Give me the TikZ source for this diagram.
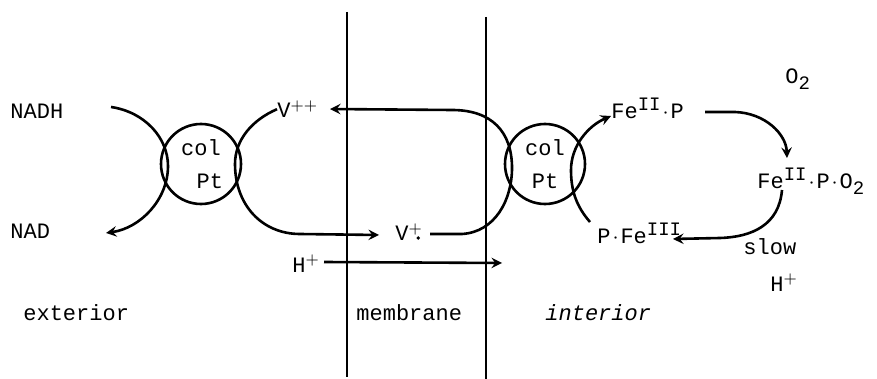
\documentclass[tikz,border=0pt]{standalone}
\usepackage{amsmath}
\usepackage{fontspec}
\setmainfont{Liberation Mono}
\newcommand{\ox}[1]{\raisebox{4pt}{\fontsize{9.5}{10}\selectfont #1}}
\newcommand{\sbx}[1]{\raisebox{-3pt}{\fontsize{9.5}{10}\selectfont #1}}
\newcommand{\mdot}{\makebox[0.45em]{$\cdot$}}

\begin{document}
\begin{tikzpicture}[x=0.5pt,y=-0.5pt,
    lbl/.style={anchor=base west,inner sep=0pt,font=\fontsize{11}{13}\selectfont},
    colpt/.style={draw,circle,line width=1.3pt,minimum size=40pt,inner sep=0pt,align=center,font=\fontsize{11}{16.5}\selectfont},
    flow/.style={line width=1.3pt,-stealth}]
    
    \useasboundingbox (0,0) rectangle (877,379);
    \draw[line width=1pt] (347,12) -- (347,377);
    \draw[line width=1pt] (486,17) -- (486,379);
    \node[colpt] (pt1) at (201,164) {col\\\hspace*{0.8em}Pt};
    \node[colpt] (pt2) at (545,164) {col\\Pt};
    \node[lbl] (nadh) at (10,119) {NADH};
    \node[lbl] (nad) at (10,239) {NAD};
    \node[lbl] (vpp) at (277,118) {V$^{++}$};
    \node[lbl] (vrad) at (395,241) {V$^{+}$};
    \fill ([xshift=-2.5pt,yshift=1.5pt]vrad.base east) circle (0.9pt);
    \node[lbl] (hout) at (292,272) {H$^{+}$};
    \node[lbl] (fep) at (611,119) {Fe\ox{II}\mdot P};
    \node[lbl] (fepo) at (757,189) {Fe\ox{II}\mdot P\mdot O\sbx{2}};
    \node[lbl] (pfe) at (597,243) {P\mdot Fe\ox{III}};
    \node[lbl] (otwo) at (785,84) {O\sbx{2}};
    \node[lbl] (slow) at (743,255) {slow};
    \node[lbl] (hin) at (770,291) {H$^{+}$};
    \node[lbl] (ext) at (23,320) {exterior};
    \node[lbl] (mem) at (356,320) {membrane};
    \node[lbl] (int) at (545,320) {\itshape interior};
    \coordinate (nadh-out) at (111,107);
    \coordinate (nad-in) at (106,233);
    \coordinate (vrad-in) at (379,235);
    \coordinate (vrad-out) at (430,234);
    \coordinate (vpp-in) at (330,109);
    \coordinate (pfe-out) at (590,222);
    \coordinate (fep-in) at (611,116);
    \coordinate (fep-out) at (705,112);
    \coordinate (fepo-in) at (787,158);
    \coordinate (fepo-out) at (782,190);
    \coordinate (pfe-in) at (673,239);
    \coordinate (hout-out) at (324,262);
    \coordinate (hout-in) at (502,263);
    \draw[flow] (nadh-out) .. controls (145,112) and (168,138) .. (168,166) .. controls (168,200) and (140,228) .. (nad-in);
    \draw[flow] (vpp.west) .. controls (252,120) and (235,140) .. (235,164) .. controls (235,205) and (262,234) .. (300,234) -- (vrad-in);
    \draw[flow] (vrad-out) -- (462,234) .. controls (495,232) and (512,200) .. (512,168) .. controls (512,132) and (492,110) .. (452,110) -- (vpp-in);
    \draw[flow] (pfe-out) .. controls (576,206) and (571,190) .. (571,170) .. controls (571,146) and (588,126) .. (fep-in);
    \draw[flow] (fep-out) -- (735,112) .. controls (765,113) and (786,134) .. (fepo-in);
    \draw[flow] (fepo-out) .. controls (779,225) and (752,237) .. (720,238) -- (pfe-in);
    \draw[flow] (hout-out) -- (hout-in);
\end{tikzpicture}
\end{document}
